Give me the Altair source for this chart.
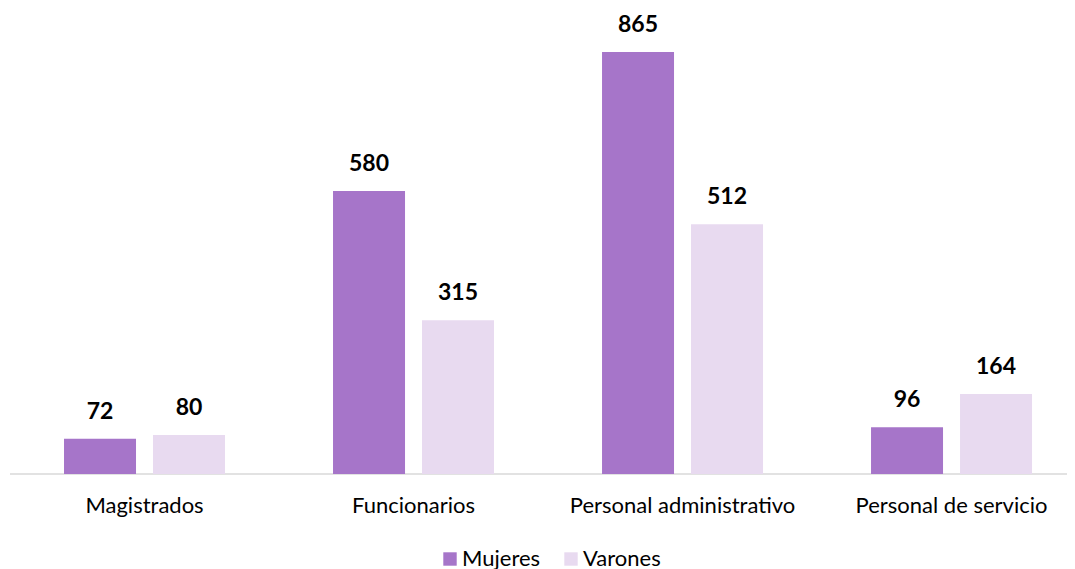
import altair as alt
import pandas as pd

categorias = ["Magistrados", "Funcionarios", "Personal administrativo", "Personal de servicio"]
series = ["Mujeres", "Varones"]
mujeres = [72, 580, 865, 96]
varones = [80, 315, 512, 164]
colores = ["#A675C9", "#E8DAF0"]

rows = []
for i, c in enumerate(categorias):
    rows.append({"categoria": c, "sexo": series[0], "valor": mujeres[i]})
    rows.append({"categoria": c, "sexo": series[1], "valor": varones[i]})
df = pd.DataFrame(rows)

W = 1057
H = 466
FONT = "Lato"

x = alt.X("categoria:N", sort=categorias,
          scale=alt.Scale(paddingInner=0.4015, paddingOuter=0.1654, align=0.607),
          axis=alt.Axis(title=None, labelAngle=0, domain=False, ticks=False,
                        labelFont=FONT, labelFontSize=22, labelColor="#000000",
                        labelPadding=21, labelLimit=0))
xo = alt.XOffset("sexo:N", sort=series,
                 scale=alt.Scale(paddingInner=0.191, paddingOuter=0))
y = alt.Y("valor:Q", scale=alt.Scale(domain=[0, 955.2], nice=False),
          axis=None)

base = alt.Chart(df)

bars = base.mark_bar().encode(
    x=x, xOffset=xo, y=y,
    color=alt.Color("sexo:N", sort=series,
                    scale=alt.Scale(domain=series, range=colores),
                    legend=alt.Legend(title=None, orient="none", direction="horizontal",
                                      legendX=429, legendY=540,
                                      symbolType="square", symbolSize=180,
                                      symbolStrokeWidth=0,
                                      labelFont=FONT, labelFontSize=22,
                                      labelColor="#000000", columnPadding=19,
                                      labelOffset=1)),
)

labels = base.mark_text(baseline="alphabetic", dy=-20, font=FONT, fontSize=23,
                        fontWeight="bold", color="#000000").encode(
    x=x, xOffset=xo, y=y, text=alt.Text("valor:Q"))

rule = alt.Chart(pd.DataFrame({"a": [0]})).mark_rule(color="#D9D9D9", strokeWidth=1.5).encode(
    x=alt.value(0), x2=alt.value(W), y=alt.value(H))

chart = alt.layer(rule, bars, labels).properties(
    width=W, height=H,
    autosize=alt.AutoSizeParams(type="none"),
    padding={"left": 2, "top": 0, "right": 0, "bottom": 95},
).configure(background="white").configure_view(stroke=None, strokeWidth=0)

chart.save("out.html", embed_options={"renderer": "svg", "actions": False})
